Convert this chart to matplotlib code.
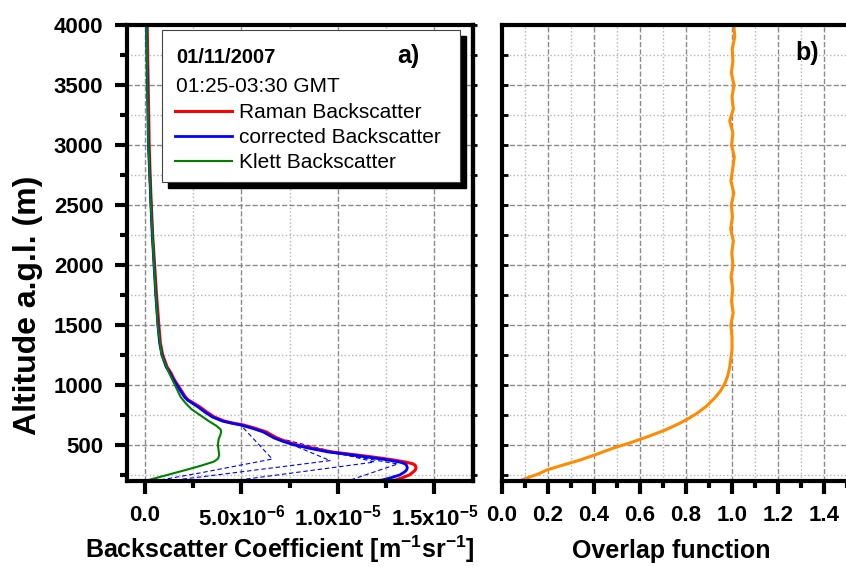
import numpy as np
import matplotlib
matplotlib.use('Agg')
import matplotlib.pyplot as plt
from matplotlib.ticker import MultipleLocator, FuncFormatter
from matplotlib.patches import Rectangle
from matplotlib.lines import Line2D

plt.rcParams['font.family'] = 'Liberation Sans'
plt.rcParams['font.weight'] = 'bold'
plt.rcParams['mathtext.fontset'] = 'custom'
plt.rcParams['mathtext.rm'] = 'Liberation Sans'
plt.rcParams['mathtext.bf'] = 'Liberation Sans:bold'

# ---- dados (retroespalhamento em 1e-6 m^-1 sr^-1, altitude em m) ----
alt_prof = [4000, 3750, 3500, 3000, 2700, 2500, 2250, 2000, 1750, 1500, 1350,
            1250, 1150, 1100, 1050, 1000, 950, 900, 875, 817, 775, 733, 700,
            683, 667, 640, 608, 580, 558, 530, 500, 470, 442, 420, 400, 380,
            358, 345, 333, 310, 290, 275, 250, 225, 208, 200]
raman = [0.12, 0.14, 0.17, 0.22, 0.28, 0.33, 0.40, 0.50, 0.60, 0.72, 0.80,
         0.92, 1.15, 1.35, 1.50, 1.70, 1.90, 2.10, 2.25, 2.85, 3.20, 3.60, 4.10,
         4.55, 5.10, 5.70, 6.30, 6.60, 6.85, 7.30, 7.90, 8.80, 9.70, 10.8, 11.8, 12.7,
         13.5, 13.85, 14.0, 14.05, 14.0, 13.9, 13.7, 13.3, 13.0, 12.7]
corrected = [0.08, 0.10, 0.13, 0.18, 0.26, 0.31, 0.38, 0.47, 0.56, 0.67, 0.76,
             0.88, 1.10, 1.30, 1.45, 1.65, 1.85, 2.05, 2.20, 2.75, 3.10, 3.50, 4.00,
             4.45, 4.95, 5.55, 6.15, 6.45, 6.70, 7.15, 7.75, 8.60, 9.50, 10.6, 11.5, 12.4,
             13.2, 13.45, 13.55, 13.6, 13.55, 13.45, 13.2, 12.7, 12.3, 11.9]

alt_klett = [4000, 3500, 3000, 2500, 2000, 1500, 1250, 1100, 1000, 950, 900,
             850, 800, 750, 700, 660, 630, 610, 580, 550, 500, 450, 420, 390,
             375, 360, 325, 300, 250, 200]
klett = [0.08, 0.13, 0.18, 0.31, 0.47, 0.66, 0.86, 1.25, 1.55, 1.70, 1.85,
         2.10, 2.40, 2.85, 3.30, 3.70, 3.92, 3.95, 3.90, 3.82, 3.78, 3.82, 3.85, 3.80,
         3.70, 3.55, 2.85, 2.30, 1.15, 0.0]

# iteracoes intermediarias (tracejadas)
alt_it1 = [642, 383, 267, 200]
it1 = [5.1, 6.6, 2.85, 0.5]
alt_it2 = [625, 370, 233, 200]
it2 = [5.8, 9.6, 2.85, 1.1]
alt_it3 = [542, 358, 200]
it3 = [7.3, 11.9, 4.5]
alt_it4 = [440, 342, 200]
it4 = [9.5, 13.1, 10.5]

# funcao de overlap
alt_ovl = [200, 233, 260, 292, 330, 375, 425, 475, 520, 567, 625, 683, 725,
           767, 825, 892, 950, 1017, 1080, 1150, 1220, 1292, 1400, 1500, 1600,
           1700, 1800, 1900, 2000, 2100, 2200, 2300, 2400, 2500, 2600, 2700,
           2800, 2900, 3000, 3100, 3200, 3300, 3400, 3500, 3600, 3700, 3800,
           3900, 4000]
overlap = [0.075, 0.12, 0.16, 0.195, 0.26, 0.34, 0.415, 0.485, 0.56, 0.63,
           0.71, 0.775, 0.815, 0.85, 0.89, 0.925, 0.95, 0.97, 0.982, 0.99,
           0.995, 1.0, 1.0, 0.995, 1.005, 0.998, 1.003, 0.996, 1.004, 0.999,
           1.006, 0.994, 1.002, 0.997, 1.008, 0.995, 1.003, 1.010, 0.998,
           1.004, 0.990, 1.006, 1.000, 1.009, 0.997, 1.004, 1.001, 1.012, 1.008]

SC = 1e-6
W, H = 846, 567


def sci_fmt(v, pos):
    if abs(v) < 1e-12:
        return '0.0'
    e = int(np.floor(np.log10(abs(v)) + 1e-9))
    m = v / 10 ** e
    return '%.1fx10$^{\\mathbf{%d}}$' % (m, e)


def style_axes(ax):
    for s in ax.spines.values():
        s.set_linewidth(3)
    ax.tick_params(which='major', length=9, width=3, labelsize=16, pad=8)
    ax.tick_params(which='minor', length=5, width=3)
    ax.grid(which='major', ls='--', color='#8a8a8a', lw=1.0)
    ax.grid(which='minor', ls=':', color='#b4b4b4', lw=1.0)
    ax.set_axisbelow(True)


fig = plt.figure(figsize=(W / 100, H / 100), dpi=100)
axa = fig.add_axes([127 / W, 86 / H, 346 / W, 456 / H])
axb = fig.add_axes([502 / W, 86 / H, 345 / W, 456 / H])

# ---- painel a ----
style_axes(axa)
axa.plot(np.array(it1) * SC, alt_it1, '--', color='blue', lw=0.8, dashes=(4, 2.5))
axa.plot(np.array(it2) * SC, alt_it2, '--', color='blue', lw=0.8, dashes=(4, 2.5))
axa.plot(np.array(it3) * SC, alt_it3, '--', color='blue', lw=0.8, dashes=(4, 2.5))
axa.plot(np.array(it4) * SC, alt_it4, '--', color='blue', lw=0.8, dashes=(4, 2.5))
axa.plot(np.array(raman) * SC, alt_prof, color='red', lw=2.2)
axa.plot(np.array(corrected) * SC, alt_prof, color='blue', lw=2.0)
axa.plot(np.array(klett) * SC, alt_klett, color='green', lw=1.5)

axa.set_xlim(-0.93e-6, 1.70e-5)
axa.set_ylim(200, 4000)
axa.xaxis.set_major_locator(MultipleLocator(5e-6))
axa.xaxis.set_minor_locator(MultipleLocator(2.5e-6))
axa.xaxis.set_major_formatter(FuncFormatter(sci_fmt))
axa.yaxis.set_major_locator(MultipleLocator(500))
axa.yaxis.set_minor_locator(MultipleLocator(250))

sec = axa.secondary_yaxis('right')
sec.yaxis.set_major_locator(MultipleLocator(500))
sec.yaxis.set_minor_locator(MultipleLocator(250))
sec.tick_params(which='both', length=3, width=2, labelright=False)
sec.spines['right'].set_linewidth(3)

# caixa da legenda com sombra
sh = 6
axa.add_patch(Rectangle(((162 + sh - 127) / 346, (481 - 182 - sh) / 456),
                        298 / 346, 152 / 456, transform=axa.transAxes,
                        facecolor='black', edgecolor='black', zorder=5))
axa.add_patch(Rectangle(((162 - 127) / 346, (481 - 182) / 456),
                        298 / 346, 152 / 456, transform=axa.transAxes,
                        facecolor='white', edgecolor='#444444', lw=0.8, zorder=6))
axa.text((176 - 127) / 346, (481 - 63) / 456, '01/11/2007', transform=axa.transAxes,
         fontsize=14.5, fontweight='bold', zorder=7)
axa.text((397 - 127) / 346, (481 - 63) / 456, 'a)', transform=axa.transAxes,
         fontsize=18, fontweight='bold', zorder=7)
axa.text((176 - 127) / 346, (481 - 92) / 456, '01:25-03:30 GMT', transform=axa.transAxes,
         fontsize=15, fontweight='normal', zorder=7)
handles = [Line2D([], [], color='red', lw=2.2),
           Line2D([], [], color='blue', lw=2.0),
           Line2D([], [], color='green', lw=1.5)]
labels = ['Raman Backscatter', 'corrected Backscatter', 'Klett Backscatter']
leg = axa.legend(handles, labels, loc='upper left',
                 bbox_to_anchor=((175 - 127) / 346, (481 - 103) / 456),
                 frameon=False, borderpad=0, borderaxespad=0, handlelength=2.75,
                 handletextpad=0.3, labelspacing=0.3,
                 prop={'family': 'Liberation Sans', 'weight': 'normal', 'size': 15})
leg.set_zorder(8)

# ---- painel b ----
style_axes(axb)
axb.plot(overlap, alt_ovl, color='#ff8c00', lw=2.2)
axb.set_xlim(0, 1.5)
axb.set_ylim(200, 4000)
axb.xaxis.set_major_locator(MultipleLocator(0.2))
axb.xaxis.set_minor_locator(MultipleLocator(0.1))
axb.xaxis.set_major_formatter(FuncFormatter(lambda v, p: '%.1f' % v))
axb.yaxis.set_major_locator(MultipleLocator(500))
axb.yaxis.set_minor_locator(MultipleLocator(250))
axb.tick_params(axis='y', which='both', direction='in', length=4, width=2, labelleft=False)
axb.spines['right'].set_visible(False)
fig.text(795 / W, 1 - 60 / H, 'b)', fontsize=18, fontweight='bold')

# ---- rotulos ----
fig.text(28 / W, 1 - 305 / H, 'Altitude a.g.l. (m)', rotation=90, ha='center',
         va='center', fontsize=23, fontweight='bold')
fig.text(280 / W, 1 - 558 / H,
         'Backscatter Coefficient [m$^{\\mathbf{-1}}$sr$^{\\mathbf{-1}}$]',
         ha='center', va='baseline', fontsize=18, fontweight='bold')
fig.text(671 / W, 1 - 558 / H, 'Overlap function', ha='center', va='baseline',
         fontsize=18, fontweight='bold')

fig.savefig('out.png', dpi=100)
